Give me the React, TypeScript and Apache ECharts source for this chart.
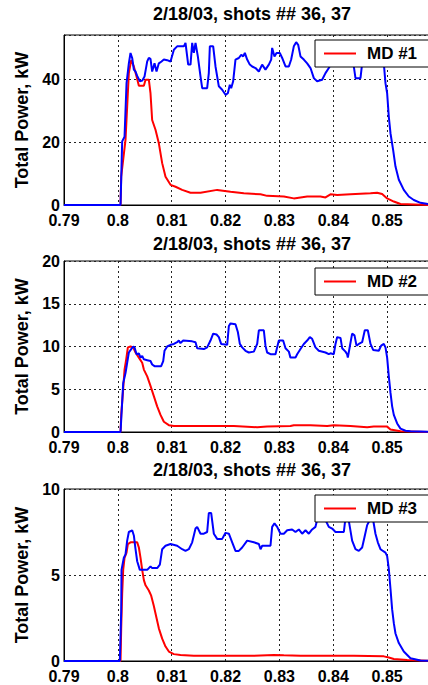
import React, { useEffect, useRef } from "react";
import * as echarts from "echarts";

const titleText = "2/18/03, shots ## 36, 37";
const yAxisName = "Total Power, kW";
const legendNames = ["MD #1", "MD #2", "MD #3"];
const otherNames = ["MD #1 shot 37", "MD #2 shot 37", "MD #3 shot 37"];
const xMin = 0.79;
const xMax = 0.86;
const xInterval = 0.01;
const yMaxes = [54, 20, 10];
const yIntervals = [20, 5, 5];

const md1Red = [[0.79,0],[0.8005,0],[0.80062,9],[0.80142,20.7],[0.80173,31.3],[0.80204,41.9],[0.80248,46],[0.80297,44],[0.80347,40.8],[0.8039,37.9],[0.80483,37.9],[0.80514,39.8],[0.80575,39.8],[0.80606,35.5],[0.80637,27],[0.80699,23.9],[0.80761,19.6],[0.80823,13.3],[0.80885,9],[0.80978,6.4],[0.81071,5.8],[0.81194,4.8],[0.81349,3.9],[0.81535,3.9],[0.81844,4.8],[0.82092,4.2],[0.82339,3.7],[0.82649,3.4],[0.82772,2.9],[0.83082,2.7],[0.83267,2.1],[0.83515,2.7],[0.83762,2.7],[0.83855,2.4],[0.83948,3.4],[0.84072,3.2],[0.84319,3.4],[0.84691,3.7],[0.84814,3.9],[0.84907,3.5],[0.85,2.1],[0.85124,1.1],[0.85248,0.3],[0.85767,0],[0.86,0]];

const md1Blue = [[0.79,0],[0.8005,0],[0.8008,20.2],[0.80124,21.7],[0.80161,38.6],[0.80204,45],[0.80235,48.3],[0.80266,46.7],[0.80297,43],[0.80328,42.4],[0.80359,41],[0.80408,39.3],[0.80452,39.5],[0.80495,40.8],[0.80545,45.6],[0.80575,46.7],[0.80606,46.4],[0.80637,42.4],[0.80681,45],[0.80718,42.4],[0.80761,45],[0.80811,45.6],[0.80854,46.2],[0.80916,46],[0.80978,45.6],[0.8104,49.3],[0.81101,50.4],[0.81225,50.4],[0.81256,51.5],[0.81306,44.6],[0.81349,44.6],[0.8138,51.5],[0.81411,48.3],[0.81442,51.5],[0.81485,47.2],[0.81535,40.8],[0.81566,37.1],[0.81658,37.1],[0.81689,41.9],[0.81708,50.4],[0.8177,50.4],[0.81813,44],[0.81875,37.7],[0.81937,36.6],[0.81999,35],[0.82042,35.5],[0.82079,38.2],[0.82104,37.1],[0.82141,39.3],[0.82184,46.2],[0.82246,46.7],[0.8229,47.7],[0.82327,47.2],[0.82358,48.3],[0.82401,46.2],[0.8245,44.6],[0.82494,44],[0.82556,43.5],[0.82618,42.4],[0.82679,44.6],[0.82741,43],[0.82803,44.6],[0.82847,46.2],[0.82865,49.9],[0.82908,47.2],[0.82946,48.3],[0.83007,48.3],[0.83051,46.7],[0.83113,44],[0.83175,44],[0.83218,46.2],[0.83267,50.4],[0.83311,51.7],[0.83348,50.9],[0.83391,47.2],[0.83453,46.2],[0.83515,45],[0.83577,43.5],[0.83639,40.3],[0.837,39.3],[0.83793,39.8],[0.83855,41.9],[0.83917,43.5],[0.83979,45.5],[0.84072,48],[0.84196,49],[0.84319,47],[0.84381,44],[0.84412,40.3],[0.84505,40.3],[0.84536,45],[0.84629,49],[0.84752,50],[0.84876,48],[0.84938,45],[0.84969,38.7],[0.85,35.5],[0.85031,28],[0.85062,22.8],[0.85111,17.5],[0.85155,12.2],[0.85217,8],[0.85309,4.8],[0.85402,2.7],[0.85495,1.6],[0.85619,0.7],[0.85767,0.3],[0.86,0.1]];

const md2Red = [[0.79,0],[0.8005,0],[0.80062,2],[0.80099,5],[0.80124,7.3],[0.80155,8.5],[0.80186,9.9],[0.80235,10],[0.80285,9.9],[0.80328,9.3],[0.8039,8.7],[0.80452,8.1],[0.80483,7.3],[0.80545,6.5],[0.80606,5.4],[0.80668,4.2],[0.8073,3],[0.80792,2],[0.80854,1.2],[0.80947,0.8],[0.8104,0.7],[0.82153,0.7],[0.82587,0.55],[0.82772,0.63],[0.83205,0.7],[0.83267,0.8],[0.83577,0.8],[0.83886,0.7],[0.8401,0.8],[0.84319,0.7],[0.84629,0.55],[0.84752,0.63],[0.85,0.63],[0.85062,0.3],[0.85248,0.1],[0.85767,0],[0.86,0]];

const md2Blue = [[0.79,0],[0.8005,0],[0.80062,1.4],[0.80099,5.7],[0.80142,6.9],[0.80173,8.1],[0.80204,9.3],[0.80248,9.7],[0.80285,10],[0.80309,9.9],[0.80347,9.1],[0.8039,9.2],[0.80421,8.7],[0.80452,8.9],[0.80483,8.5],[0.80545,8.4],[0.80606,8.3],[0.80637,7.9],[0.80681,7.7],[0.80804,7.7],[0.80842,8.3],[0.80866,9.5],[0.80916,10],[0.80978,10.2],[0.8104,10.3],[0.81101,10.5],[0.81132,10.7],[0.81163,10.4],[0.81213,10.7],[0.8138,10.6],[0.81442,10.5],[0.81473,9.8],[0.81597,9.7],[0.81658,9.9],[0.8172,10.7],[0.8177,11.5],[0.81832,11.4],[0.81875,11.1],[0.81918,10.3],[0.8203,10.2],[0.82061,12.4],[0.82092,12.7],[0.82184,12.6],[0.82228,11.7],[0.82265,10.3],[0.82308,9.9],[0.8237,9.5],[0.82432,9.3],[0.82525,9.4],[0.82587,10.3],[0.82618,11.9],[0.8271,11.9],[0.82741,10.1],[0.82772,9.3],[0.82834,9.1],[0.82927,9.1],[0.82958,9.9],[0.82989,10.7],[0.83069,10.7],[0.83113,9.8],[0.83175,9.4],[0.83205,8.7],[0.83298,8.7],[0.83329,9.1],[0.83391,9.7],[0.83453,10.3],[0.83515,10.7],[0.83564,11.1],[0.83607,10.9],[0.83669,9.9],[0.83731,9.5],[0.83855,9.3],[0.83917,9.1],[0.83948,9.2],[0.8401,9.1],[0.84041,10.3],[0.84072,11.1],[0.84134,11],[0.84165,9.8],[0.84226,9.4],[0.84257,9.1],[0.8427,8.7],[0.84307,10],[0.8435,11.5],[0.84394,11.3],[0.84431,10.1],[0.84474,10.3],[0.84536,10.5],[0.84585,11.9],[0.84641,11.9],[0.84691,10.3],[0.8474,9.6],[0.84845,9.5],[0.84889,10.1],[0.84938,10.3],[0.84969,9.9],[0.85,8.7],[0.85031,6.5],[0.85062,4.6],[0.85093,3],[0.85124,2],[0.85186,1],[0.85248,0.4],[0.85341,0.15],[0.85433,0.08],[0.85767,0.04],[0.86,0.03]];

const md3Red = [[0.79,0],[0.8005,0],[0.80062,1.9],[0.8008,3.9],[0.80099,5.3],[0.80124,6],[0.80161,6.3],[0.80186,6.8],[0.80235,6.9],[0.80359,6.9],[0.8039,6.6],[0.80421,6],[0.80452,5.3],[0.80483,4.7],[0.80514,4.4],[0.80575,4.1],[0.80619,3.8],[0.80668,3.2],[0.80718,2.5],[0.80761,1.9],[0.80823,1.3],[0.80885,0.84],[0.80947,0.55],[0.8104,0.4],[0.81163,0.35],[0.81411,0.3],[0.81906,0.31],[0.82525,0.3],[0.82896,0.35],[0.83082,0.33],[0.83391,0.3],[0.8401,0.3],[0.84381,0.31],[0.84938,0.27],[0.85031,0.2],[0.85124,0.12],[0.85371,0.06],[0.85767,0.02],[0.86,0]];

const md3Blue = [[0.79,0],[0.80037,0],[0.80062,2.9],[0.80068,5.3],[0.80111,6],[0.80142,6.2],[0.80173,7],[0.80204,7.5],[0.80266,7.6],[0.80297,7.3],[0.80328,6.5],[0.80359,5.8],[0.80408,5.3],[0.80452,5.3],[0.80545,5.3],[0.80606,5.5],[0.80637,5.4],[0.8073,5.4],[0.8078,5.6],[0.80823,6.5],[0.80885,6.7],[0.80978,6.8],[0.81101,6.7],[0.81194,6.5],[0.81256,6.4],[0.81318,6.5],[0.8138,6.9],[0.81442,7.7],[0.81473,7.8],[0.81535,7.4],[0.81597,7.4],[0.81658,7.5],[0.81689,8.6],[0.81733,8.6],[0.81782,7.4],[0.81844,7.1],[0.81937,7.1],[0.81999,7.45],[0.82061,7.4],[0.82123,6.9],[0.82184,6.4],[0.82246,6.4],[0.82308,6.6],[0.82401,7],[0.82525,6.9],[0.82618,6.8],[0.82649,6.5],[0.8268,6.7],[0.82834,6.7],[0.82865,7.8],[0.82908,8],[0.82958,7.8],[0.8302,7.4],[0.83082,7.4],[0.83144,7.6],[0.83236,7.65],[0.83298,7.5],[0.8336,7.65],[0.83422,7.4],[0.83484,7.6],[0.83546,7.4],[0.83607,7.65],[0.83669,7.8],[0.837,8.2],[0.83775,8.4],[0.83855,8.2],[0.83917,7.8],[0.83979,7.7],[0.84041,7.5],[0.84196,7.5],[0.84226,8.3],[0.8427,8.5],[0.84307,7.8],[0.8435,7],[0.84412,6.5],[0.84474,6.4],[0.84536,6.6],[0.84579,7.2],[0.84629,7.9],[0.84678,8.2],[0.8474,8.2],[0.84783,7.4],[0.84827,6.9],[0.84876,6.5],[0.84969,6.3],[0.85,6.1],[0.85031,5.35],[0.85062,4.2],[0.85093,3],[0.85124,2.2],[0.85155,1.6],[0.85217,1.04],[0.85309,0.55],[0.85433,0.16],[0.85619,0.03],[0.86,0]];

const redSeries = [md1Red, md2Red, md3Red];
const blueSeries = [md1Blue, md2Blue, md3Blue];

const FONT = "'Liberation Sans', Arial, Helvetica, sans-serif";
const gridTops = [35, 261, 489];
const gridHeights = [170, 171, 172];
const titleTops = [5, 235, 461];
const legendTops = [40, 268, 495];

export default function App() {
  const ref = useRef<HTMLDivElement>(null);
  useEffect(() => {
    document.body.style.margin = "0";
    if (!ref.current) return;
    const chart = echarts.init(ref.current, undefined, { renderer: "svg" });
    const idx = [0, 1, 2];
    const option: any = {
      animation: false,
      backgroundColor: "#ffffff",
      title: idx.map((i) => ({
        text: titleText,
        left: 252,
        top: titleTops[i],
        textAlign: "center",
        padding: 0,
        textStyle: { fontSize: 18, fontWeight: "bold", color: "#000", fontFamily: FONT },
      })),
      grid: idx.map((i) => ({
        left: 64,
        top: gridTops[i],
        width: 377,
        height: gridHeights[i],
        outerBoundsMode: "none",
        containLabel: false,
        show: true,
        borderColor: "#000",
        borderWidth: 1,
        backgroundColor: "#fff",
      })),
      legend: idx.map((i) => ({
        data: [legendNames[i]],
        left: 315,
        top: legendTops[i],
        backgroundColor: "#fff",
        borderColor: "#000",
        borderWidth: 1,
        borderRadius: 0,
        padding: [5, 30, 5, 9],
        icon: "rect",
        itemWidth: 32,
        itemHeight: 2,
        selectedMode: false,
        textStyle: { fontSize: 17, lineHeight: 17, fontWeight: "bold", color: "#000", fontFamily: FONT, padding: [0, 0, 0, 6] },
      })),
      xAxis: idx.map((i) => ({
        type: "value",
        gridIndex: i,
        min: xMin,
        max: xMax,
        interval: xInterval,
        axisLine: { show: true, lineStyle: { color: "#000", width: 1 } },
        axisTick: { show: false },
        axisLabel: {
          margin: 8,
          showMaxLabel: false,
          color: "#000",
          fontSize: 16,
          lineHeight: 14,
          fontWeight: "bold",
          fontFamily: FONT,
          formatter: (v: number) => String(Math.round(v * 100) / 100),
        },
        splitLine: { show: true, lineStyle: { color: "#222", type: [2, 3], width: 1 } },
      })),
      yAxis: idx.map((i) => ({
        type: "value",
        gridIndex: i,
        min: 0,
        max: yMaxes[i],
        interval: yIntervals[i],
        name: yAxisName,
        nameLocation: "middle",
        nameGap: 31,
        nameTextStyle: { fontSize: 18, fontWeight: "bold", color: "#000", fontFamily: FONT },
        axisLine: { show: true, lineStyle: { color: "#000", width: 1 } },
        axisTick: { show: false },
        axisLabel: {
          margin: 4,
          color: "#000",
          fontSize: 16,
          lineHeight: 12,
          padding: [0, 0, 4, 0],
          fontWeight: "bold",
          fontFamily: FONT,
          formatter: (v: number) => (Math.abs(v % yIntervals[i]) < 1e-9 ? String(v) : ""),
        },
        splitLine: { show: true, lineStyle: { color: "#222", type: [2, 3], width: 1 } },
      })),
      series: [
        ...idx.map((i) => ({
          name: legendNames[i],
          type: "line",
          xAxisIndex: i,
          yAxisIndex: i,
          data: redSeries[i],
          symbol: "none",
          lineStyle: { color: "#ff0000", width: 2 },
          itemStyle: { color: "#ff0000" },
          z: 2,
        })),
        ...idx.map((i) => ({
          name: otherNames[i],
          type: "line",
          xAxisIndex: i,
          yAxisIndex: i,
          data: blueSeries[i],
          symbol: "none",
          lineStyle: { color: "#0000ff", width: 2 },
          itemStyle: { color: "#0000ff" },
          z: 3,
        })),
      ],
    };
    chart.setOption(option);
    return () => chart.dispose();
  }, []);
  return <div ref={ref} style={{ width: 428, height: 685 }} />;
}
